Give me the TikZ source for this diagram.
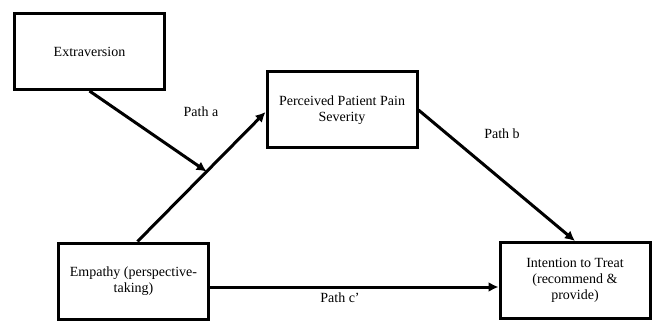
\documentclass[tikz,border=0pt]{standalone}
\usepackage{fontspec}
\setmainfont{Liberation Serif}
\usetikzlibrary{arrows.meta}
\begin{document}
\begin{tikzpicture}[x=1pt,y=-1pt,
    box/.style={draw,line width=3pt,minimum width=150pt,minimum height=76pt,align=center,font=\fontsize{14}{16}\selectfont},
    lbl/.style={font=\fontsize{14}{16}\selectfont},
    arr/.style={line width=3pt,-{Latex[length=10pt,width=10pt]}}]
    \useasboundingbox (0,0) rectangle (657,321);
    \node[box] (ext) at (89.5,51.5) {Extraversion};
    \node[box] (per) at (342,110) {Perceived Patient Pain\\Severity};
    \node[box] (emp) at (133.5,281) {Empathy (perspective-\\taking)};
    \node[box] (int) at (575,280.5) {Intention to Treat\\(recommend \&\\provide)};
    \draw[arr] ([xshift=4pt]emp.north) -- coordinate[pos=0.54] (mid) ([yshift=-2pt]per.west);
    \draw[arr] (ext.south) -- (mid);
    \draw[arr] (per.east) -- (int.north);
    \draw[arr] ([yshift=-6pt]emp.east) -- ([yshift=-6pt]emp.east -| int.west);
    \node[lbl] (lbla) at (201,112) {Path a};
    \node[lbl] (lblb) at (502,134) {Path b};
    \node[lbl] (lblc) at (340,298) {Path c’};
\end{tikzpicture}
\end{document}
